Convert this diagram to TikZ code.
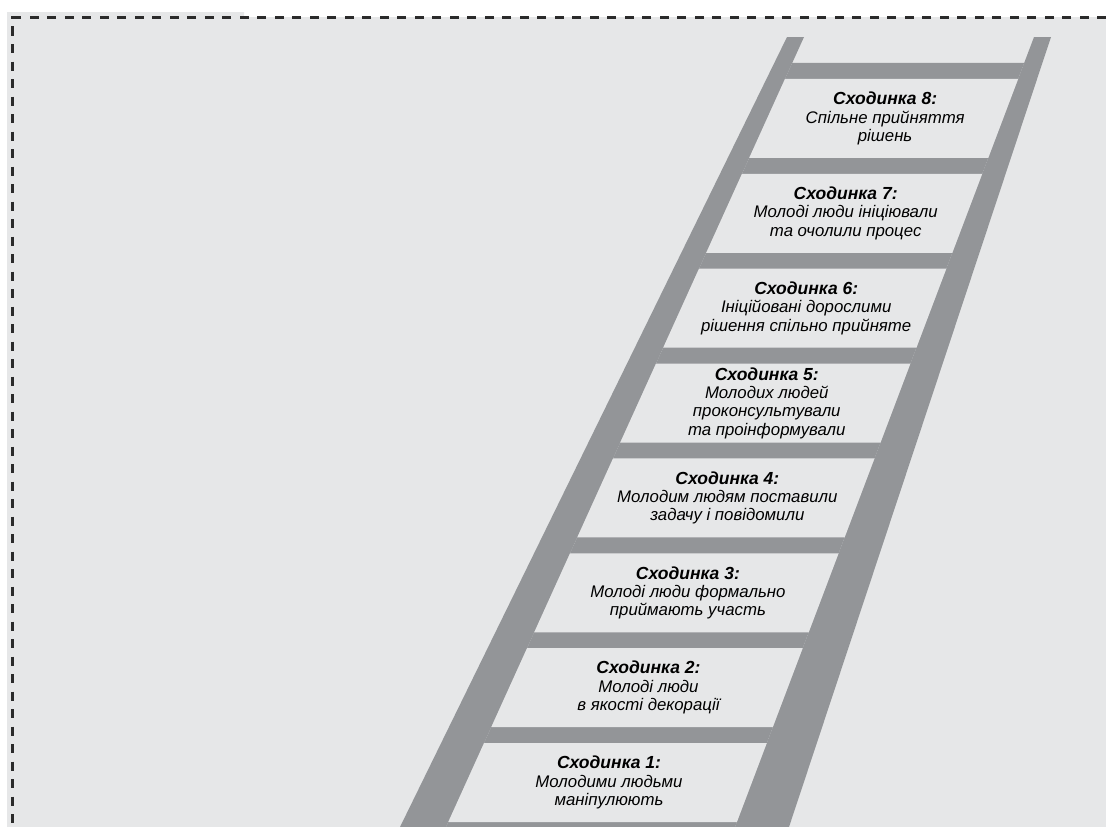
\documentclass[tikz,border=0pt]{standalone}
\usepackage{fontspec}
\setmainfont{Liberation Sans}
\usepackage{xcolor}
\usepackage{tikz}
\usetikzlibrary{calc}

\definecolor{paper}{HTML}{E6E7E8}
\definecolor{railgray}{HTML}{939598}
\definecolor{framegray}{HTML}{2B2B2B}

\tikzset{
	steptext/.style={align=center,inner sep=0pt,text=black,
		font=\fontsize{16.8}{18.3}\selectfont\itshape},
	framedash/.style={framegray,line width=2.2pt,dash pattern=on 9pt off 8.5pt}
}

\begin{document}
\begin{tikzpicture}[x=1pt,y=-1pt]
			\useasboundingbox (0,0) rectangle (1106,827);
			\fill[paper] (7,12) -- (244,12) -- (244,17) -- (1106,17) -- (1106,827) -- (7,827) -- cycle;
			\draw[framedash] (1106,17.5) -- (12.5,17.5) -- (12.5,827);
			\coordinate (la) at (787,37);
			\coordinate (lb) at (400,827);
			\coordinate (lc) at (804,37);
			\coordinate (ld) at (446,827);
			\coordinate (rc) at (1034,37);
			\coordinate (rd) at (735,827);
			\coordinate (ra) at (1051,37);
			\coordinate (rb) at (789,827);
			\fill[railgray] (la) -- (lc) -- (ld) -- (lb) -- cycle;
			\fill[railgray] (rc) -- (ra) -- (rb) -- (rd) -- cycle;
			\fill[railgray] ($(lc)!26/790!(ld)$) -- ($(rc)!26/790!(rd)$) -- (rd) -- (ld) -- cycle;
			\foreach \i/\txt in {
				8/{Спільне прийняття\\рішень},
				7/{Молоді люди ініціювали\\та очолили процес},
				6/{Ініційовані дорослими\\рішення спільно прийняте},
				5/{Молодих людей\\проконсультували\\та проінформували},
				4/{Молодим людям поставили\\задачу і повідомили},
				3/{Молоді люди формально\\приймають участь},
				2/{Молоді люди\\в якості декорації},
				1/{Молодими людьми\\маніпулюють}} {
				\pgfmathsetmacro\t{(79+(8-\i)*94.86-37)/790}
				\pgfmathsetmacro\b{\t+79/790}
				\pgfmathsetmacro\m{(\t+\b)/2}
				\fill[paper] ($(lc)!\t!(ld)$) -- ($(rc)!\t!(rd)$) -- ($(rc)!\b!(rd)$) -- ($(lc)!\b!(ld)$) -- cycle;
				\node[steptext] (step\i) at ($($(lc)!\m!(ld)$)!.5!($(rc)!\m!(rd)$)$)
					{{\fontsize{17.5}{18.3}\selectfont\bfseries Сходинка \i:}\\\txt};
			}
		\end{tikzpicture}
\end{document}
